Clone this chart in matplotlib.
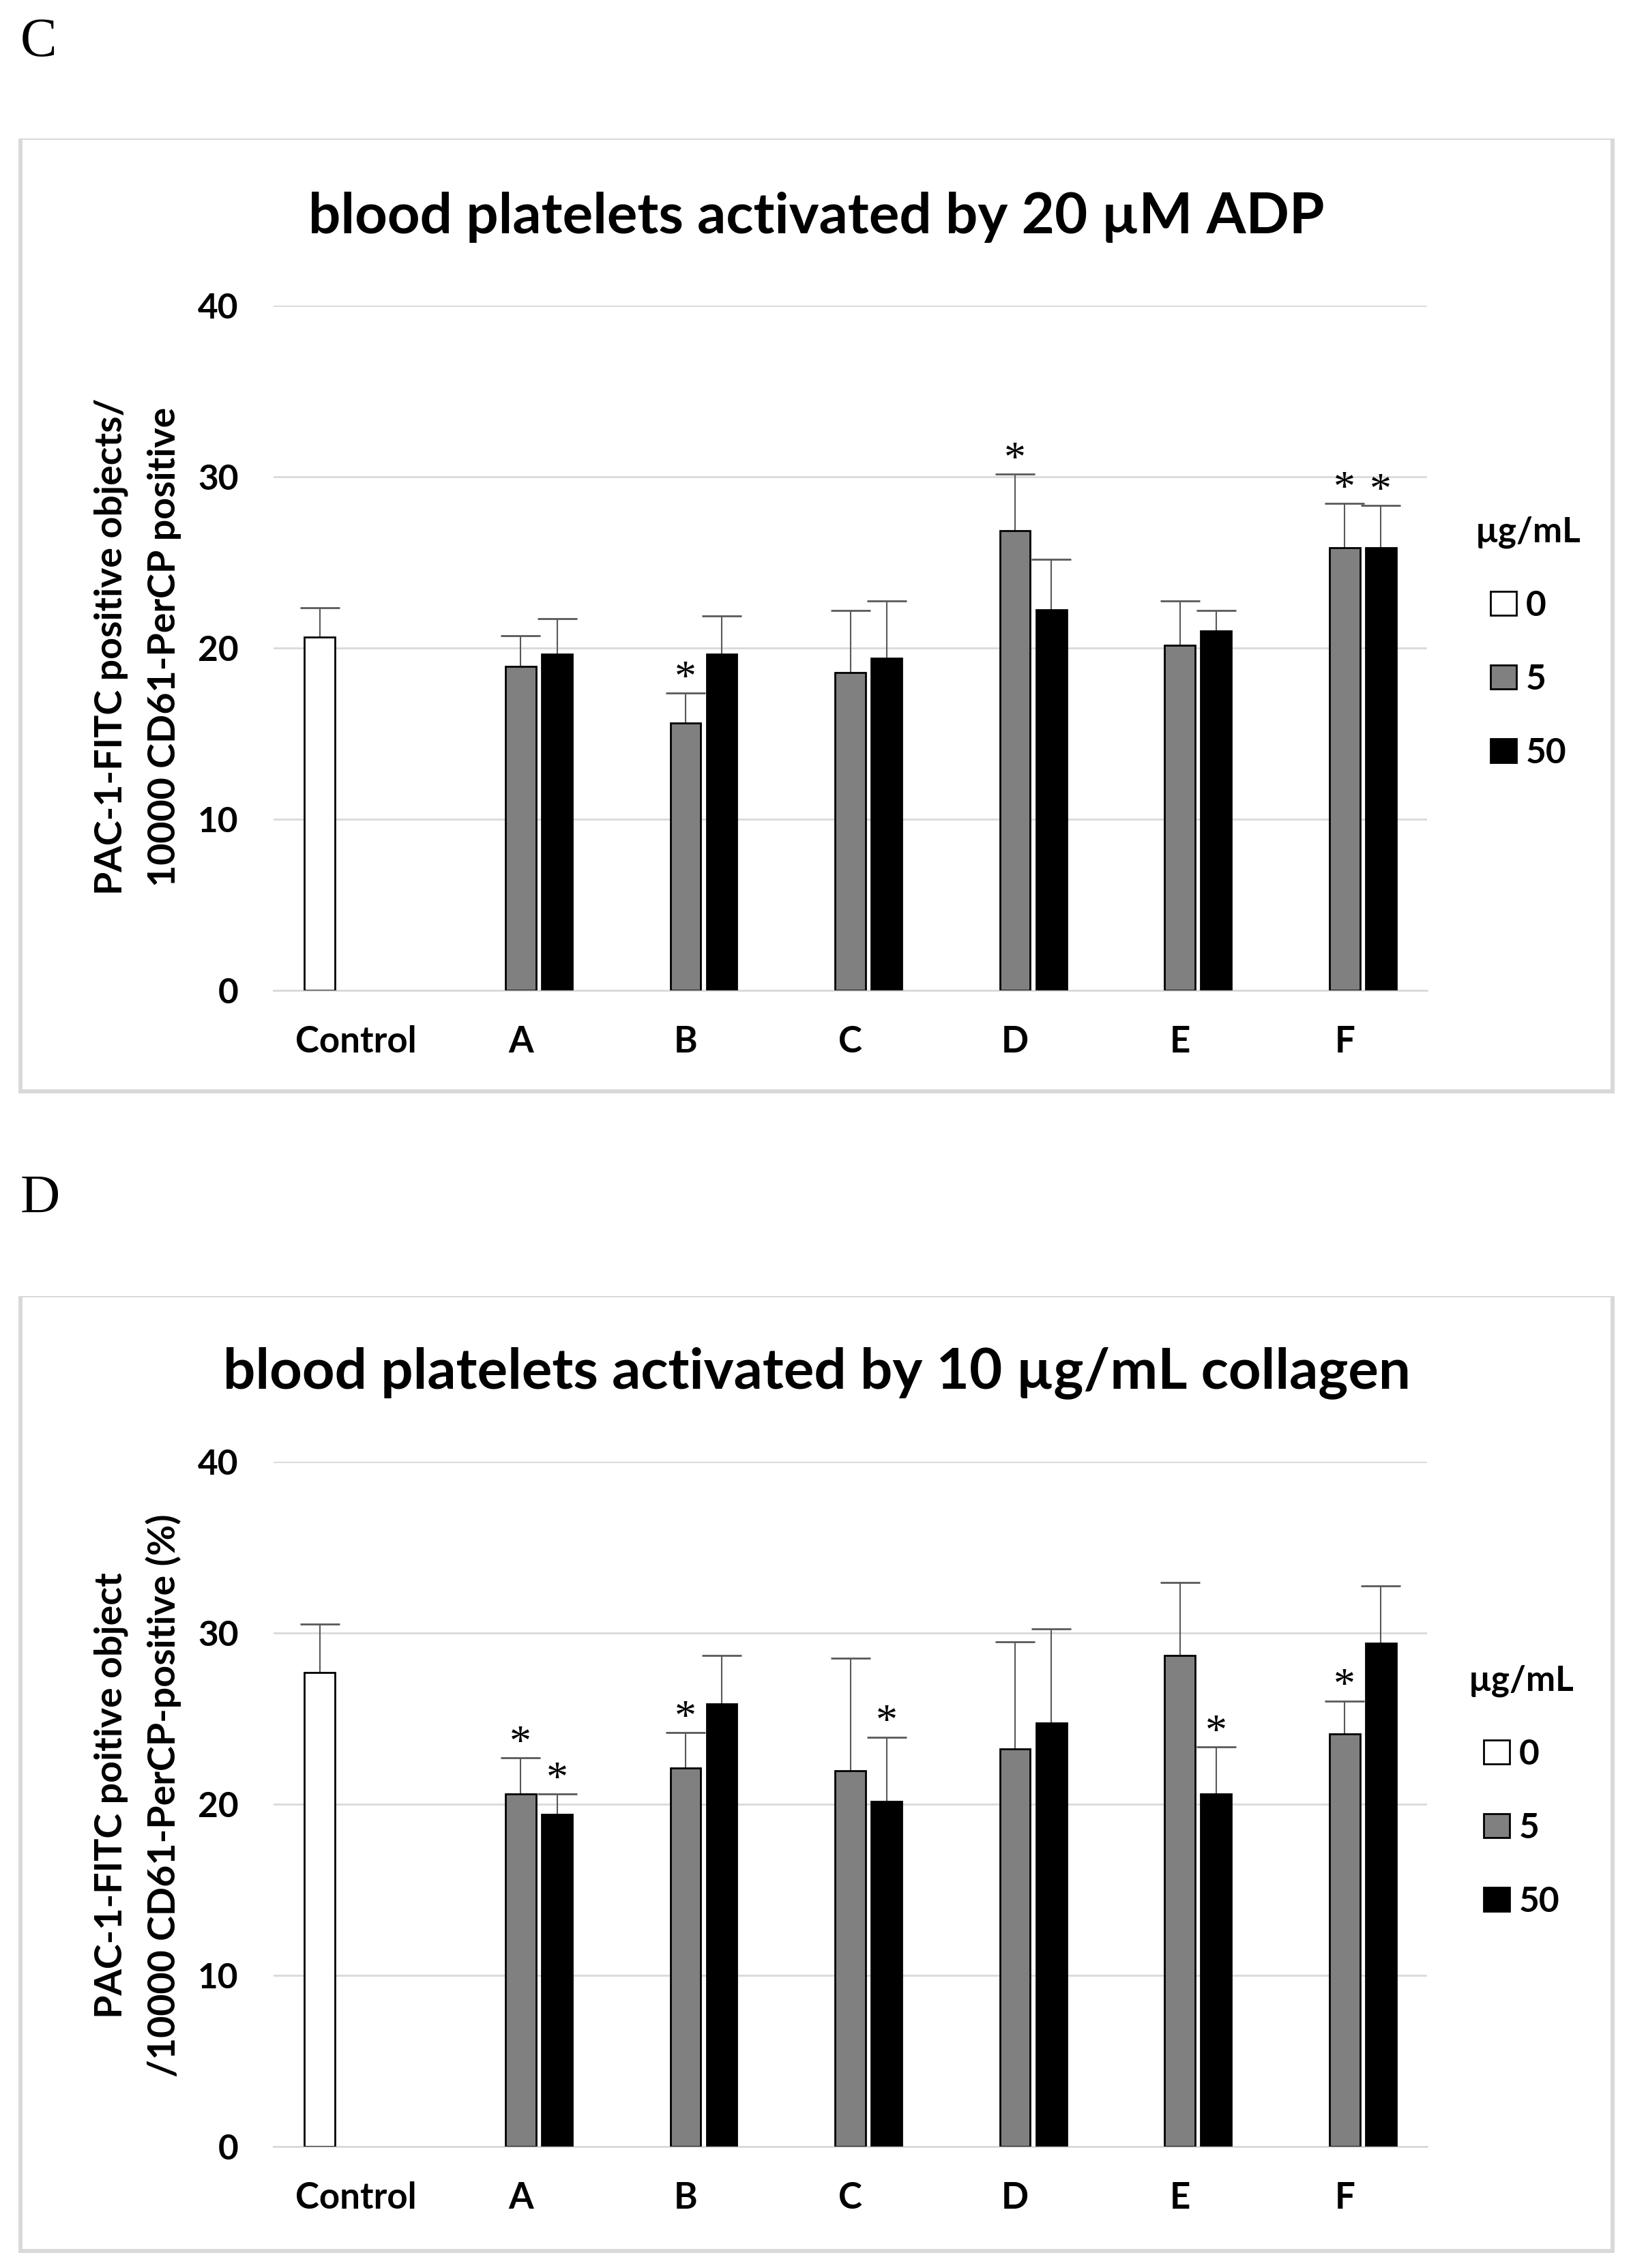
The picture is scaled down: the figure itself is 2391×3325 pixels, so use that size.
import numpy as np
import matplotlib
matplotlib.use('Agg')
import matplotlib.pyplot as plt
from matplotlib.patches import Rectangle

# ---------------- data ----------------
categories = ['Control', 'A', 'B', 'C', 'D', 'E', 'F']
series_labels = ['0', '5', '50']
legend_title = 'µg/mL'
yticks = [0, 10, 20, 30, 40]

# Panel C
c_title = 'blood platelets activated by 20 µM ADP'
c_ylabel = ['PAC-1-FITC positive objects/', '10000 CD61-PerCP positive']
c_control = 20.63
c_control_err = 1.73
c_gray = [18.94, 15.61, 18.57, 26.84, 20.17, 25.86]
c_gray_err = [1.78, 1.77, 3.62, 3.33, 2.57, 2.58]
c_black = [19.66, 19.66, 19.41, 22.24, 21.01, 25.86]
c_black_err = [2.07, 2.20, 3.33, 2.95, 1.18, 2.45]
c_gray_star = [False, True, False, True, False, True]
c_black_star = [False, False, False, False, False, True]

# Panel D
d_title = 'blood platelets activated by 10 µg/mL collagen'
d_ylabel = ['PAC-1-FITC poitive object', '/10000 CD61-PerCP-positive (%)']
d_control = 27.68
d_control_err = 2.82
d_gray = [20.59, 22.11, 21.94, 23.21, 28.69, 24.09]
d_gray_err = [2.11, 2.07, 6.58, 6.28, 4.26, 1.94]
d_black = [19.41, 25.86, 20.17, 24.73, 20.59, 29.41]
d_black_err = [1.18, 2.83, 3.75, 5.52, 2.74, 3.33]
d_gray_star = [True, True, False, False, False, True]
d_black_star = [True, False, True, False, True, False]

# ---------------- style ----------------
W, H, DPI = 2391, 3325, 100
SANS = ['Lato', 'DejaVu Sans']
SERIF = ['Liberation Serif', 'DejaVu Serif']
plt.rcParams['font.family'] = SANS
plt.rcParams['font.weight'] = 'bold'

GRID = '#d9d9d9'
ERRC = '#595959'
BAR_W = 0.185
OFFS = [-0.22, 0.0, 0.22]
COLORS = ['white', '#808080', 'black']

fig = plt.figure(figsize=(W / DPI, H / DPI), dpi=DPI)
fig.patch.set_facecolor('white')


def fx(px):
    return px / W


def fy(py):
    return 1 - py / H


def border(top, bottom, left=27, right=2367, thick=6, thin=2):
    for (x0, y0, x1, y1) in [(left, top, right, top + thin),
                             (left, top, left + thick, bottom),
                             (right - thick, top, right, bottom),
                             (left, bottom - thick, right, bottom)]:
        fig.add_artist(Rectangle((fx(x0), fy(y1)), fx(x1) - fx(x0), fy(y0) - fy(y1),
                                 transform=fig.transFigure, facecolor=GRID,
                                 edgecolor='none', zorder=0))


def panel(letter, letter_base, box_top, box_bottom, ax_top, ax_bottom,
          title, title_base, ylabel, ylab_cy, leg_left, leg_top,
          control, control_err, gray, gray_err, black, black_err, gstar, bstar):
    border(box_top, box_bottom)
    fig.text(fx(30), fy(letter_base), letter, fontfamily=SERIF, fontweight='normal',
             fontsize=58, ha='left', va='baseline')
    fig.text(fx(1197), fy(title_base), title, fontsize=60, fontweight='bold',
             ha='center', va='baseline')
    for xb, line in zip([179, 257], ylabel):
        fig.text(fx(xb), fy(ylab_cy), line, rotation=90, rotation_mode='anchor',
                 ha='center', va='baseline', fontsize=40, fontweight='bold')

    ax = fig.add_axes([fx(401), fy(ax_bottom), fx(2092) - fx(401), (ax_bottom - ax_top) / H])
    x = np.arange(len(categories))
    xt = x[1:]
    groups = [(x[:1] + OFFS[0], [control], [control_err], [False]),
              (xt + OFFS[1], gray, gray_err, gstar),
              (xt + OFFS[2], black, black_err, bstar)]
    handles = []
    for (xs, vals, errs, stars), col in zip(groups, COLORS):
        vals = np.asarray(vals, dtype=float)
        errs = np.asarray(errs, dtype=float)
        b = ax.bar(xs, vals, BAR_W, color=col, edgecolor='black', linewidth=2.0, zorder=3)
        handles.append(b)
        eb = ax.errorbar(xs, vals, yerr=[np.zeros_like(errs), errs], fmt='none',
                         ecolor=ERRC, elinewidth=1.5, capsize=21, capthick=2, zorder=2.5)
        for cl in eb[1]:
            if np.allclose(cl.get_ydata(), vals):
                cl.set_visible(False)
        for xi, v, e, s in zip(xs, vals, errs, stars):
            if s:
                ax.annotate('*', xy=(xi, v + e), xytext=(0, 3), textcoords='offset points',
                            ha='center', va='baseline', fontsize=46, fontweight='normal',
                            fontfamily=SERIF)

    ax.set_xlim(-0.5, len(categories) - 0.5)
    ax.set_ylim(0, 40)
    ax.set_yticks(yticks)
    ax.set_yticklabels([str(t) for t in yticks])
    ax.set_xticks(x)
    ax.set_xticklabels(categories)
    ax.yaxis.grid(True, color=GRID, linewidth=2)
    ax.set_axisbelow(True)
    for s in ['top', 'left', 'right']:
        ax.spines[s].set_visible(False)
    ax.spines['bottom'].set_color(GRID)
    ax.spines['bottom'].set_linewidth(2)
    ax.tick_params(axis='y', length=0, labelsize=37, pad=37)
    ax.tick_params(axis='x', length=0, labelsize=38, pad=37)
    for lab in ax.get_xticklabels() + ax.get_yticklabels():
        lab.set_fontweight('bold')

    ax.legend(handles, series_labels, title=legend_title, loc='upper left',
              bbox_to_anchor=(fx(leg_left), fy(leg_top)), bbox_transform=fig.transFigure,
              frameon=False, prop={'size': 37, 'weight': 'bold'},
              title_fontproperties={'size': 37, 'weight': 'bold'},
              handlelength=0.75, handleheight=0.67, handletextpad=0.25,
              labelspacing=1.19, borderpad=0, borderaxespad=0)
    return ax


panel('C', 82, 203, 1603, 448, 1452, c_title, 342, c_ylabel, 948, 2163, 756,
      c_control, c_control_err, c_gray, c_gray_err, c_black, c_black_err,
      c_gray_star, c_black_star)
panel('D', 1778, 1900, 3303, 2143, 3147, d_title, 2035, d_ylabel, 2632, 2153, 2440,
      d_control, d_control_err, d_gray, d_gray_err, d_black, d_black_err,
      d_gray_star, d_black_star)

fig.savefig('out.png', dpi=DPI, facecolor='white')
